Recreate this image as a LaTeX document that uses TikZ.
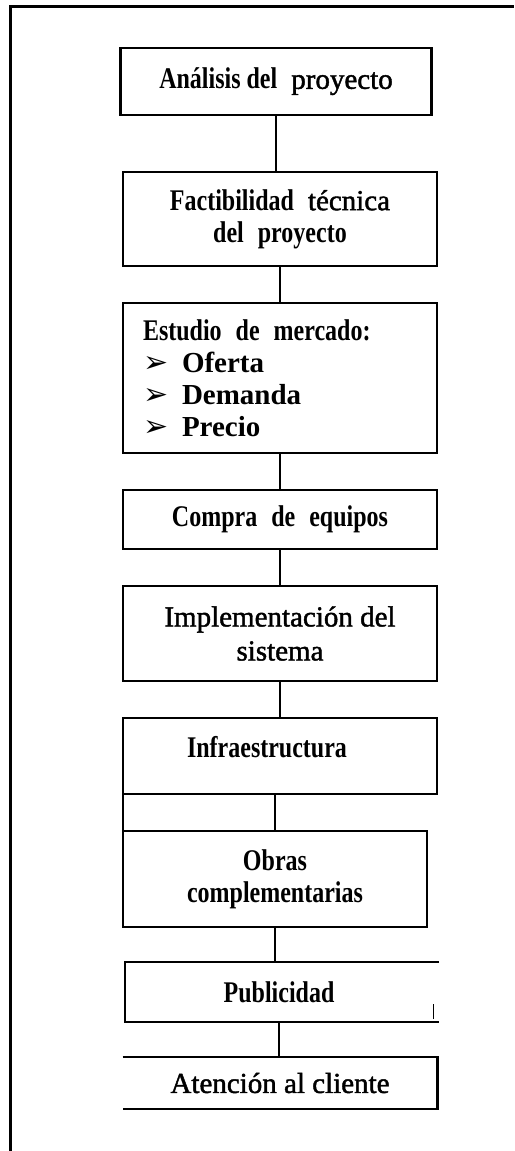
\documentclass[tikz,border=0pt]{standalone}
\usepackage{fontspec}
\setmainfont{Liberation Serif}
\newfontfamily\estrecha[FakeStretch=0.8]{Liberation Serif}
\newfontfamily\media[FakeBold=1.5]{Liberation Serif}
\newfontfamily\simbolos{DejaVu Sans}
\usetikzlibrary{positioning}
\newcommand{\fina}{\media\mdseries\fontsize{14.5}{17}\selectfont}
\newcommand{\gruesa}{\normalfont\bfseries\fontsize{14.5}{16}\selectfont}
\newcommand{\flecha}{\makebox[19.5pt][l]{\simbolos\fontsize{15}{16}\selectfont ➢}}
\newcommand{\hueco}{\hspace{7pt}}
\tikzset{
  caja/.style={draw,line width=1.3pt,inner sep=0pt,outer sep=0pt,
               align=center,minimum width=157pt,
               font=\estrecha\bfseries\fontsize{15}{16}\selectfont},
  cajaabierta/.style={caja,draw=none},
  borde/.style={line width=1.3pt},
  rotulo/.style={inner sep=0pt,
               font=\estrecha\bfseries\fontsize{15}{16}\selectfont},
  linea/.style={line width=1.1pt},
  marco/.style={line width=1.5pt},
}
\begin{document}
\begin{tikzpicture}[node distance=18.5pt]
  \useasboundingbox (0,0) rectangle (257pt,-575.5pt);
  % Marco
  \draw[marco] (5pt,-575.5pt) -- (5pt,-3pt) -- (257pt,-3pt);

  \node[caja,minimum width=155.5pt,minimum height=33.5pt] (analisis) at (138pt,-40.75pt)
    {Análisis del\hueco{\fina proyecto}};
  \node[caja,minimum height=47pt,below=28.5pt of analisis,xshift=2pt] (factib)
    {Factibilidad\hueco{\fina técnica}\\ del\hueco proyecto};
  \node[caja,minimum height=75pt,text width=137pt,align=left,below=of factib] (mercado)
    {Estudio\hueco de\hueco mercado:\\
     \flecha{\gruesa Oferta}\\
     \flecha{\gruesa Demanda}\\
     \flecha{\gruesa Precio}};
  \node[caja,minimum height=29.5pt,below=of mercado] (compra)
    {Compra\hueco de\hueco equipos};
  \node[caja,minimum height=47.5pt,font=\fina,below=of compra] (implem)
    {Implementación del\\ sistema};
  \node[caja,minimum height=38pt,below=of implem] (infra) {};
  \node[rotulo,below=9pt of infra.north,xshift=-6.5pt] (infratxt) {Infraestructura};
  \node[caja,minimum width=152pt,minimum height=48pt,
        below=of infra.south west,anchor=north west] (obras)
    {Obras\\ complementarias};
  \node[cajaabierta,minimum width=154pt,minimum height=30pt,
        below=17.5pt of obras.south west,anchor=north west,xshift=1pt] (publi)
    {Publicidad};
  \node[cajaabierta,minimum width=157.5pt,minimum height=26pt,font=\fina,
        below=17.5pt of publi,xshift=0.5pt] (atencion)
    {Atención al cliente};

  % Cajas abiertas
  \draw[borde] ([xshift=3pt]publi.north east) -- (publi.north west)
    -- (publi.south west) -- ([xshift=3pt]publi.south east);
  \draw[line width=0.5pt] ([yshift=1.5pt]publi.south east) -- ++(0,7.5pt);
  \draw[borde] (atencion.north west) -- (atencion.north east)
    -- (atencion.south east) -- (atencion.south west);

  % Conectores
  \draw[linea] (analisis.south) -- (analisis.south |- factib.north);
  \draw[linea] (factib.south) -- (factib.south |- mercado.north);
  \draw[linea] (mercado.south) -- (mercado.south |- compra.north);
  \draw[linea] (compra.south) -- (compra.south |- implem.north);
  \draw[linea] (implem.south) -- (implem.south |- infra.north);
  \draw[linea] (obras.north) -- (obras.north |- infra.south);
  \draw[borde] (infra.south west) -- (obras.north west);
  \draw[linea] (obras.south) -- (obras.south |- publi.north);
  \draw[linea] (publi.south) -- (publi.south |- atencion.north);
\end{tikzpicture}
\end{document}
